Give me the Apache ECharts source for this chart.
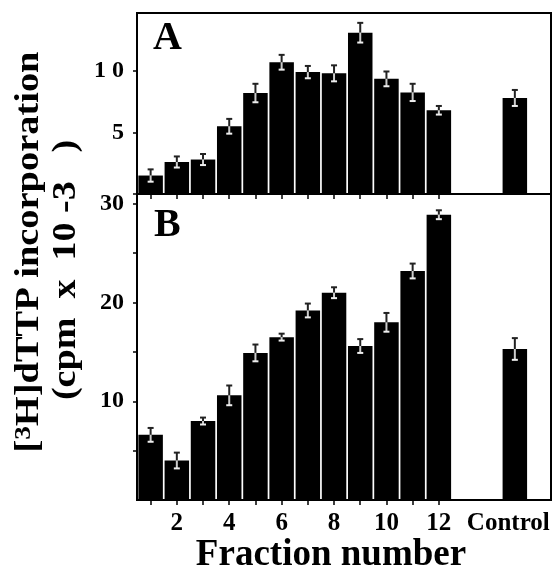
<!DOCTYPE html>
<html lang="en">
<head>
    <meta charset="UTF-8">
    <title>dTTP incorporation</title>
    <script src="https://cdn.jsdelivr.net/npm/echarts@6/dist/echarts.min.js"></script>
    <style>
        html, body { margin: 0; padding: 0; background: #fff; }
    </style>
</head>
<body>
    <div style="height: 572px;width: 554px" id="chart"></div>
    <script type="text/javascript">
        // data
        var categories = ['1', '2', '3', '4', '5', '6', '7', '8', '9', '10', '11', '12', 'Control'];
        var valuesA = [1.5, 2.6, 2.8, 5.5, 8.2, 10.7, 9.9, 9.8, 13.1, 9.35, 8.25, 6.8, 7.8];
        var errorsA = [0.5, 0.45, 0.45, 0.6, 0.75, 0.6, 0.5, 0.65, 0.8, 0.6, 0.7, 0.35, 0.65];
        var valuesB = [6.6, 4.0, 8.0, 10.6, 14.9, 16.5, 19.2, 21.0, 15.6, 18.0, 23.2, 28.9, 15.3];
        var errorsB = [0.7, 0.8, 0.35, 1.0, 0.85, 0.35, 0.7, 0.55, 0.7, 0.95, 0.75, 0.45, 1.1];
        var xTicks = [1, 2, 3, 4, 5, 6, 7, 8, 9, 10, 11, 12];
        var xLabelValues = [2, 4, 6, 8, 10, 12];
        var yTicksA = [0, 5, 10];
        var yLabelsA = [5, 10];
        var yTicksB = [5, 10, 15, 20, 25, 30];
        var yLabelsB = [10, 20, 30];

        // where the control bar and its label sit on the fraction axis
        var CONTROL_X = 14.9;
        var CONTROL_LABEL_X = 14.65;

        var FONT = "'Liberation Serif', 'DejaVu Serif', serif";

        function xOf(c) {
            return c === 'Control' ? CONTROL_X : Number(c);
        }
        function barData(vals) {
            return categories.map(function (c, i) { return [xOf(c), vals[i]]; });
        }
        function errData(vals, errs) {
            return categories.map(function (c, i) { return [xOf(c), vals[i], errs[i]]; });
        }

        function renderErr(params, api) {
            var x = api.value(0), y = api.value(1), e = api.value(2);
            var top = api.coord([x, y + e]);
            var mid = api.coord([x, y]);
            var bot = api.coord([x, y - e]);
            var hw = 3;
            return {
                type: 'group',
                children: [
                    { type: 'line', shape: { x1: top[0], y1: top[1], x2: mid[0], y2: mid[1] }, style: { stroke: '#222', lineWidth: 2 } },
                    { type: 'line', shape: { x1: top[0] - hw, y1: top[1], x2: top[0] + hw, y2: top[1] }, style: { stroke: '#222', lineWidth: 2 } },
                    { type: 'line', shape: { x1: mid[0], y1: mid[1], x2: bot[0], y2: bot[1] }, style: { stroke: '#ccc', lineWidth: 2 } },
                    { type: 'line', shape: { x1: bot[0] - hw, y1: bot[1], x2: bot[0] + hw, y2: bot[1] }, style: { stroke: '#eee', lineWidth: 2 } }
                ]
            };
        }

        function xAxisCfg(gridIndex, withLabels) {
            return {
                type: 'value',
                gridIndex: gridIndex,
                min: 0.48,
                max: 16.28,
                axisLine: { show: true, lineStyle: { color: '#000', width: 2 } },
                axisTick: { show: true, customValues: xTicks, length: 5, lineStyle: { color: '#000', width: 1.5 } },
                axisLabel: {
                    show: withLabels,
                    customValues: xLabelValues.concat([CONTROL_LABEL_X]),
                    formatter: function (v) { return v === CONTROL_LABEL_X ? 'Control' : String(v); },
                    color: '#000',
                    fontFamily: FONT,
                    fontWeight: 'bold',
                    fontSize: 25,
                    margin: 11
                },
                splitLine: { show: false }
            };
        }

        function yAxisCfg(gridIndex, max, ticks, labels, fmt) {
            return {
                type: 'value',
                gridIndex: gridIndex,
                min: 0,
                max: max,
                axisLine: { show: true, lineStyle: { color: '#000', width: 2 } },
                axisTick: { show: true, customValues: ticks, length: 4, lineStyle: { color: '#000', width: 1.5 } },
                axisLabel: {
                    customValues: labels,
                    formatter: fmt,
                    color: '#000',
                    fontFamily: FONT,
                    fontWeight: 'bold',
                    fontSize: 24,
                    margin: 13
                },
                splitLine: { show: false }
            };
        }

        var myChart = echarts.init(document.getElementById('chart'));
        var option = {
            animation: false,
            backgroundColor: '#fff',
            grid: [
                { left: 137, top: 13, width: 414, height: 181, show: true, borderColor: '#000', borderWidth: 2 },
                { left: 137, top: 194, width: 414, height: 306, show: true, borderColor: '#000', borderWidth: 2 }
            ],
            xAxis: [xAxisCfg(0, false), xAxisCfg(1, true)],
            yAxis: [
                yAxisCfg(0, 14.7, yTicksA, yLabelsA, function (v) { return v === 10 ? '1 0' : String(v); }),
                yAxisCfg(1, 31, yTicksB, yLabelsB, function (v) { return String(v); })
            ],
            series: [
                { type: 'bar', xAxisIndex: 0, yAxisIndex: 0, barWidth: 24.5, itemStyle: { color: '#000' }, data: barData(valuesA) },
                { type: 'custom', xAxisIndex: 0, yAxisIndex: 0, renderItem: renderErr, z: 5, data: errData(valuesA, errorsA) },
                { type: 'bar', xAxisIndex: 1, yAxisIndex: 1, barWidth: 24.5, itemStyle: { color: '#000' }, data: barData(valuesB) },
                { type: 'custom', xAxisIndex: 1, yAxisIndex: 1, renderItem: renderErr, z: 5, data: errData(valuesB, errorsB) }
            ],
            graphic: [
                { type: 'text', x: 153, y: 39, style: { text: 'A', font: 'bold 40px ' + FONT, fill: '#000', verticalAlign: 'middle' } },
                { type: 'text', x: 154, y: 226, style: { text: 'B', font: 'bold 40px ' + FONT, fill: '#000', verticalAlign: 'middle' } },
                {
                    type: 'text', x: 29, y: 252, rotation: Math.PI / 2, scaleX: 1.13,
                    style: {
                        text: '{m|[}{s|3}{m|H]dTTP incorporation}',
                        align: 'center', verticalAlign: 'middle',
                        rich: {
                            m: { font: 'bold 34px ' + FONT, fill: '#000' },
                            s: { font: 'bold 24px ' + FONT, fill: '#000', verticalAlign: 'top' }
                        }
                    }
                },
                {
                    type: 'text', x: 66, y: 270, rotation: Math.PI / 2, scaleX: 1.12,
                    style: { text: '(cpm  x  10 -3   )', font: 'bold 34px ' + FONT, fill: '#000', align: 'center', verticalAlign: 'middle' }
                },
                {
                    type: 'text', x: 331, y: 555,
                    style: { text: 'Fraction number', font: 'bold 37px ' + FONT, fill: '#000', align: 'center', verticalAlign: 'middle' }
                }
            ]
        };
        myChart.setOption(option);
    </script>
</body>
</html>
